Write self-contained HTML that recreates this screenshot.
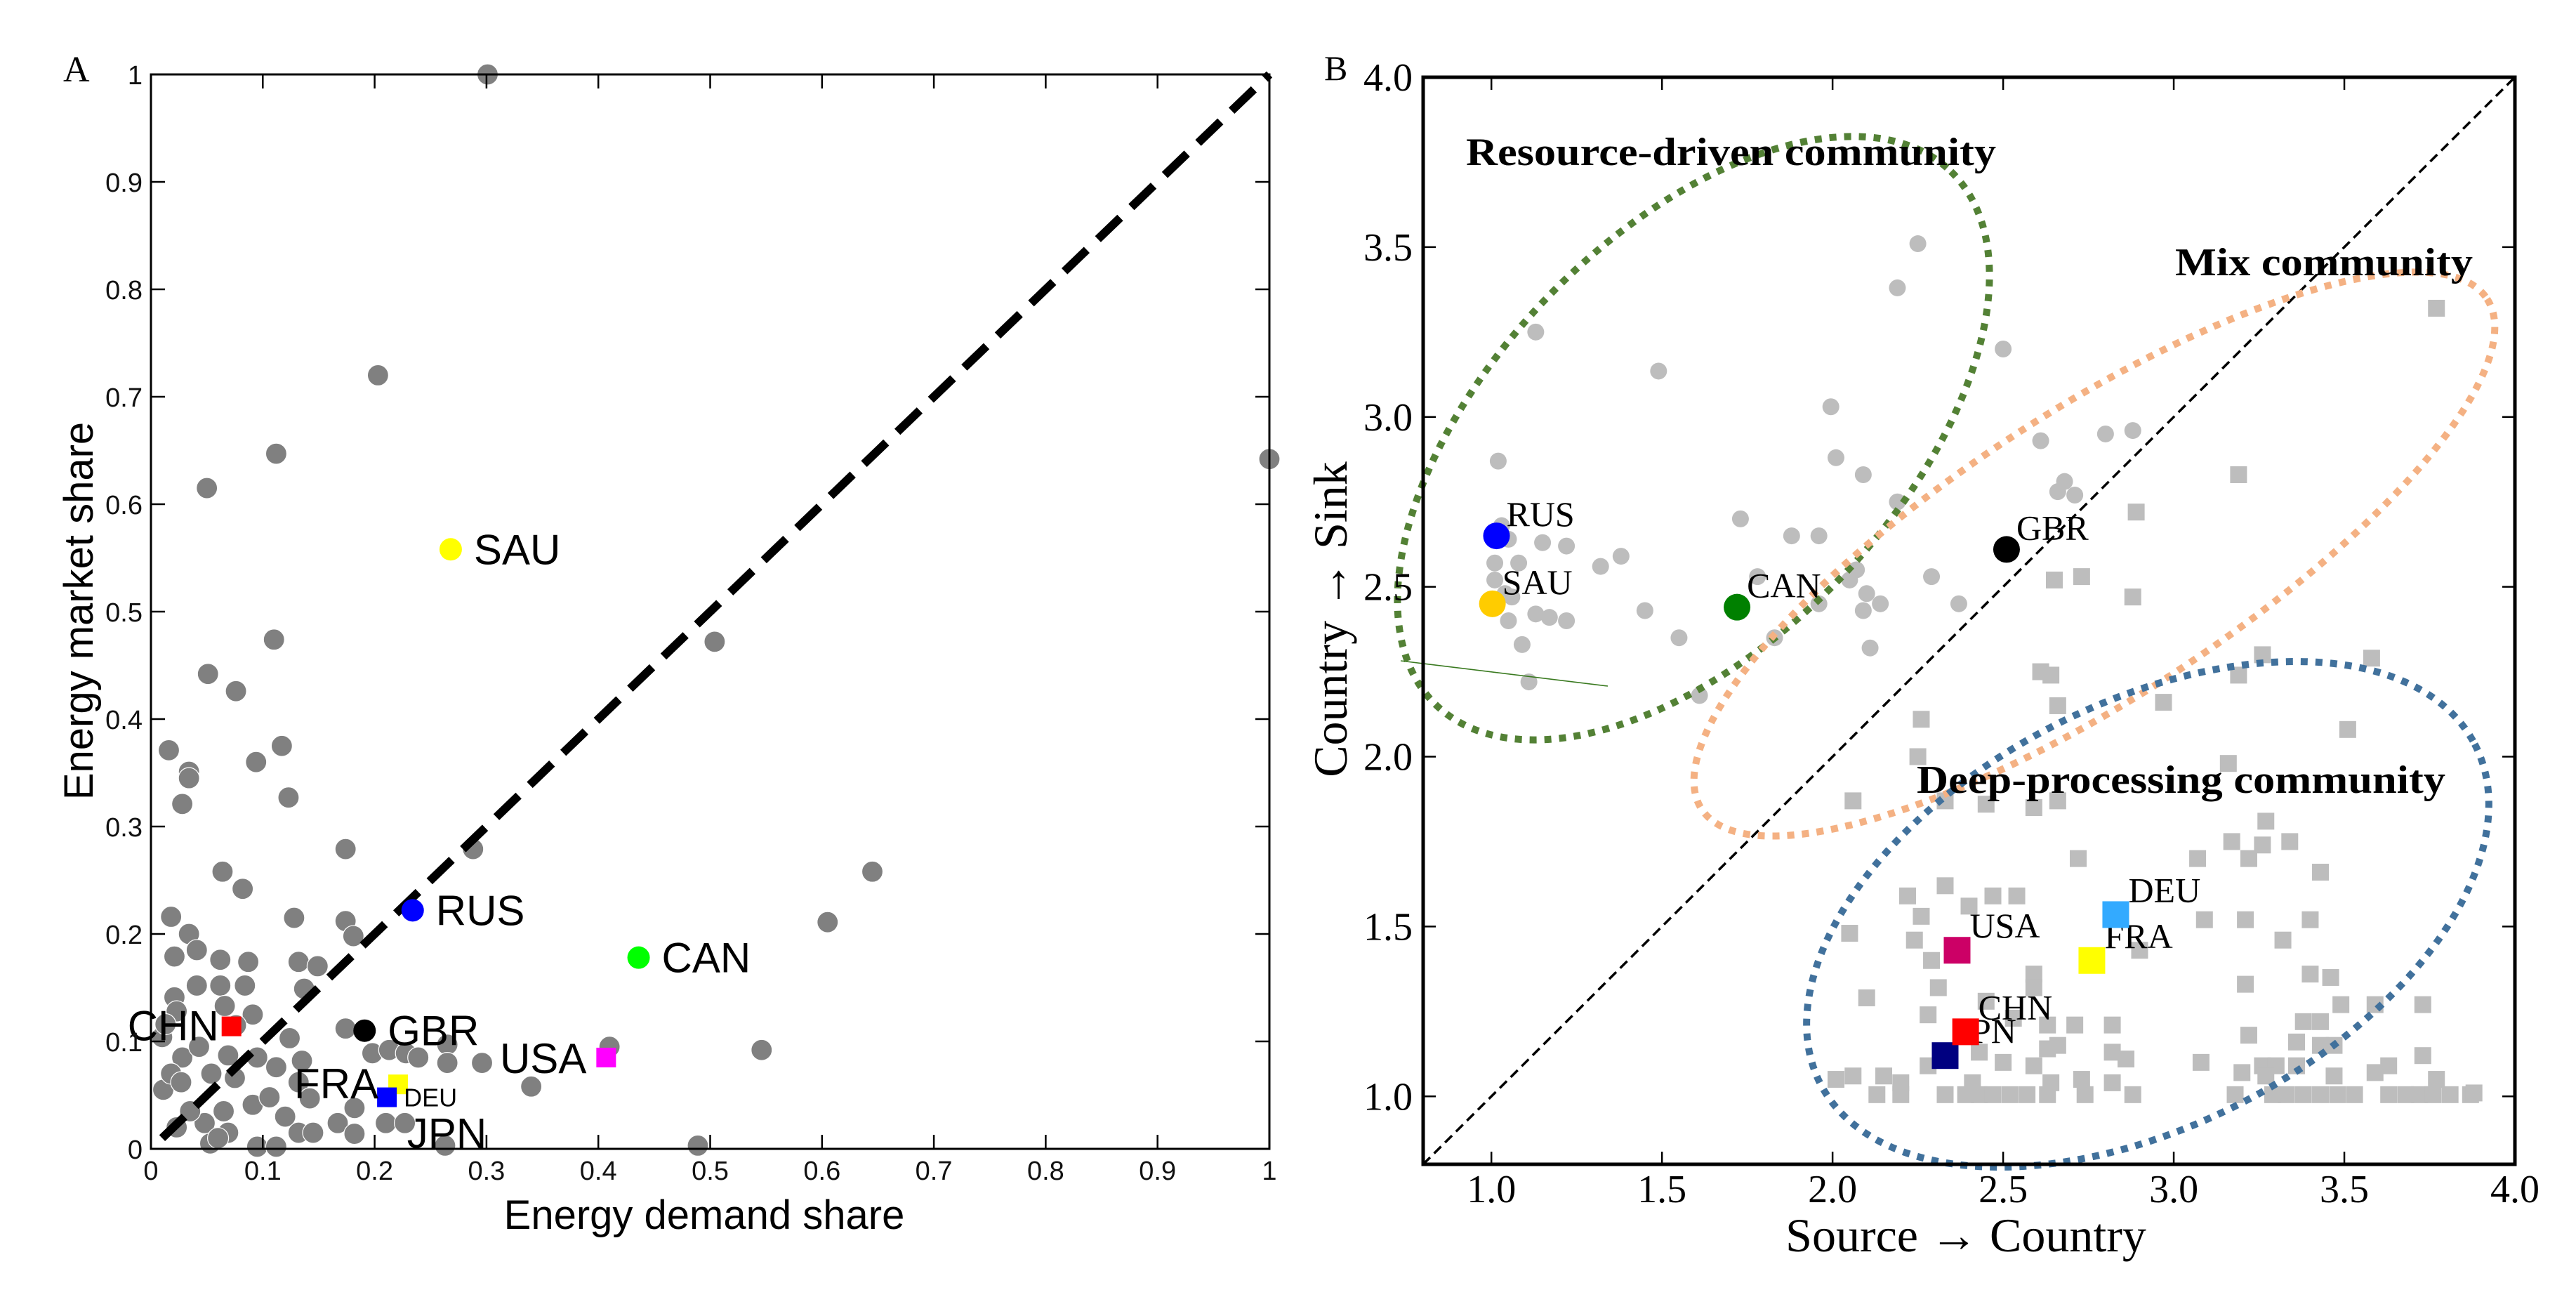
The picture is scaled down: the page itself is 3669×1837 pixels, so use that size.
<!DOCTYPE html>
<html><head><meta charset="utf-8"><title>Energy market vs demand share, and community map</title>
<style>
html,body{margin:0;padding:0;background:#fff;}
svg{display:block;}
.sans{font-family:"Liberation Sans",Arial,sans-serif;}
.serif{font-family:"Liberation Serif","Times New Roman",serif;}
</style></head>
<body>
<svg id="fig" width="3669" height="1837" viewBox="0 0 3669 1837" xmlns="http://www.w3.org/2000/svg">
<rect width="3669" height="1837" fill="#fff"/>
<g id="panelA"></g>
<g id="panelB"></g>
</svg>
<script>
// ---------- Panel A data ----------
const aTicks = [0,0.1,0.2,0.3,0.4,0.5,0.6,0.7,0.8,0.9,1];
const aTickLabels = ["0","0.1","0.2","0.3","0.4","0.5","0.6","0.7","0.8","0.9","1"];
const aX = [0.301,1.0,0.203,0.112,0.05,0.11,0.504,0.051,0.076,0.016,0.117,0.094,0.034,0.034,0.028,0.123,0.174,0.288,0.064,0.082,0.645,0.605,0.018,0.128,0.174,0.181,0.034,0.546,0.41,0.34,0.489,0.263,
0.174,0.124,0.198,0.213,0.228,0.239,0.265,0.265,0.296,0.095,0.069,0.112,0.135,0.028,0.010,0.011,0.043,0.054,0.075,0.132,0.142,0.091,0.065,0.106,0.182,0.167,0.182,0.132,0.21,0.227,0.023,0.048,0.069,0.095,0.112,0.053,0.035,0.018,0.027,
0.021,0.041,0.062,0.087,0.132,0.149,0.041,0.062,0.084,0.137,0.021,0.066,0.091,0.023,0.013,0.076,0.145,0.06,0.12];
const aY = [1.0,0.642,0.72,0.647,0.615,0.474,0.472,0.442,0.426,0.371,0.375,0.36,0.351,0.345,0.321,0.327,0.279,0.279,0.258,0.242,0.258,0.211,0.216,0.215,0.212,0.198,0.2,0.092,0.095,0.058,0.003,0.003,
0.112,0.103,0.089,0.092,0.089,0.085,0.097,0.08,0.08,0.085,0.087,0.076,0.082,0.085,0.104,0.055,0.095,0.07,0.066,0.062,0.047,0.041,0.035,0.048,0.038,0.024,0.014,0.015,0.024,0.024,0.02,0.024,0.015,0.002,0.002,0.005,0.035,0.07,0.062,
0.179,0.185,0.176,0.174,0.174,0.17,0.152,0.152,0.152,0.149,0.141,0.133,0.125,0.128,0.116,0.115,0.015,0.01,0.03];
const aHlNames = ["SAU","RUS","CAN","GBR"];
const aHlX = [0.268,0.234,0.436,0.191];
const aHlY = [0.558,0.222,0.178,0.110];
const aHlColors = ["#ffff00","#0000ff","#00ff00","#000000"];
const aSqNames = ["CHN","USA","FRA","DEU"];
const aSqX = [0.072,0.407,0.221,0.211];
const aSqY = [0.114,0.085,0.060,0.048];
const aSqColors = ["#ff0000","#ff00ff","#ffff00","#0000ff"];

// ---------- Panel B data ----------
const bTicks = [1.0,1.5,2.0,2.5,3.0,3.5,4.0];
const bTickLabels = ["1.0","1.5","2.0","2.5","3.0","3.5","4.0"];
const bcX = [1.13,1.49,1.02,2.25,2.19,2.50,1.995,2.01,2.09,2.19,1.88,1.96,1.73,1.15,1.22,1.05,1.01,1.08,1.32,1.38,1.01,1.06,1.05,1.13,1.17,1.22,1.09,1.11,1.45,1.55,1.83,1.61,1.96,2.07,2.05,2.10,2.09,2.14,2.11,2.29,2.37,1.78,2.61,2.80,2.88,2.66,2.68,2.71,1.03,1.04];
const bcY = [3.25,3.135,2.87,3.51,3.38,3.20,3.03,2.88,2.83,2.75,2.65,2.65,2.70,2.63,2.62,2.64,2.57,2.57,2.56,2.59,2.52,2.47,2.40,2.42,2.41,2.40,2.33,2.22,2.43,2.35,2.35,2.18,2.45,2.55,2.52,2.48,2.43,2.45,2.32,2.53,2.45,2.53,2.93,2.95,2.96,2.78,2.81,2.77,2.68,2.48];
const bsX = [3.77,3.19,2.89,2.88,2.65,2.73,2.61,2.64,2.66,2.26,2.25,2.97,3.26,3.19,3.58,3.51,3.16,2.06,2.33,2.45,2.59,2.66,2.72,3.07,3.17,3.27,3.26,3.22,3.34,3.43,
2.22,2.33,2.40,2.47,2.54,2.26,2.05,2.24,2.29,3.09,3.21,3.40,3.32,2.90,2.59,2.59,2.31,2.45,2.10,3.21,3.40,3.46,3.49,3.59,3.73,2.28,2.53,2.63,2.71,2.82,3.22,3.38,3.43,3.43,3.47,3.36,2.63,2.66,2.43,2.82,2.86,3.73,2.50,2.59,2.28,3.08,3.26,3.30,3.36,3.63,3.59,3.20,3.47,2.06,2.01,2.15,2.20,2.64,2.73,2.82,3.27,3.77,2.41,
2.13,2.20,2.33,2.39,2.43,2.47,2.52,2.57,2.63,2.74,2.88,3.18,3.29,3.33,3.38,3.43,3.48,3.53,3.63,3.68,3.72,3.76,3.81,3.87,3.88];
const bsY = [3.32,2.83,2.72,2.47,2.52,2.53,2.25,2.24,2.15,2.11,2.00,2.16,2.30,2.24,2.29,2.08,1.98,1.87,1.87,1.86,1.85,1.87,1.70,1.70,1.75,1.81,1.74,1.70,1.75,1.66,
1.59,1.62,1.56,1.59,1.59,1.53,1.48,1.46,1.40,1.52,1.52,1.52,1.46,1.43,1.36,1.32,1.32,1.28,1.29,1.33,1.36,1.35,1.27,1.27,1.27,1.24,1.23,1.21,1.21,1.21,1.18,1.22,1.22,1.15,1.15,1.16,1.14,1.15,1.13,1.13,1.11,1.12,1.10,1.09,1.09,1.10,1.09,1.09,1.09,1.09,1.07,1.07,1.06,1.06,1.05,1.06,1.04,1.04,1.05,1.04,1.06,1.05,1.04,
1.005,1.005,1.005,1.005,1.005,1.005,1.005,1.005,1.005,1.005,1.005,1.005,1.005,1.005,1.005,1.005,1.005,1.005,1.005,1.005,1.005,1.005,1.005,1.005,1.01];
const bHcNames = ["RUS","SAU","CAN","GBR"];
const bHcX = [1.015,1.003,1.72,2.51];
const bHcY = [2.65,2.45,2.44,2.61];
const bHcColors = ["#0000ff","#ffcc00","#008000","#000000"];
const bHsNames = ["USA","DEU","FRA","CHN","JPN"];
const bHsX = [2.365,2.83,2.76,2.39,2.33];
const bHsY = [1.43,1.535,1.40,1.19,1.12];
const bHsColors = ["#cc0066","#33aaff","#ffff00","#ff0000","#000080"];

const NS = "http://www.w3.org/2000/svg";
function mk(tag, attrs, parent){const e=document.createElementNS(NS,tag);for(const k in attrs)e.setAttribute(k,attrs[k]);parent.appendChild(e);return e;}

// ---------- Panel A ----------
(function(){
const g=document.getElementById('panelA');
const L=215,R=1808,T=106,B=1636;
const sx=v=>L+v*(R-L), sy=v=>B-v*(B-T);
let t=mk('text',{x:90,y:116,'font-size':52,class:'serif'},g);t.textContent='A';


for(let i=0;i<aX.length;i++){
  const c=mk('circle',{cx:sx(aX[i]),cy:sy(aY[i]),r:15,fill:'#808080',stroke:'#ffffff','stroke-width':1.2},g);
  
  
}
let d=mk('line',{x1:sx(0.01),y1:sy(0.01),x2:sx(1),y2:sy(1),stroke:'#000','stroke-width':12,'stroke-dasharray':'44 22'},g);


for(let i=0;i<aHlX.length;i++){
  const c=mk('circle',{cx:sx(aHlX[i]),cy:sy(aHlY[i]),r:16,fill:aHlColors[i]},g);
  
  
  const tx=mk('text',{x:sx(aHlX[i])+33,y:sy(aHlY[i])+21,'font-size':60,class:'sans'},g);tx.textContent=aHlNames[i];
  
  
}
for(let i=0;i<aSqX.length;i++){
  const s=mk('rect',{x:sx(aSqX[i])-14,y:sy(aSqY[i])-14,width:28,height:28,fill:aSqColors[i]},g);
  
  
}
const lab=[["CHN",sx(aSqX[0])-18,sy(aSqY[0])+20,'end',60],["USA",sx(aSqX[1])-28,sy(aSqY[1])+22,'end',60],["FRA",sx(aSqX[2])-28,sy(aSqY[2])+20,'end',60],["DEU",sx(aSqX[3])+24,sy(aSqY[3])+13,'start',36],["JPN",sx(0.229),sy(0.001),'start',60]];
lab.forEach(l=>{const tx=mk('text',{x:l[1],y:l[2],'text-anchor':l[3],'font-size':l[4],class:'sans'},g);tx.textContent=l[0];
  
  });
let f=mk('rect',{x:L,y:T,width:R-L,height:B-T,fill:'none',stroke:'#000','stroke-width':3},g);


for(let i=0;i<aTicks.length;i++){
  const x=sx(aTicks[i]),y=sy(aTicks[i]);
  mk('line',{x1:x,y1:B,x2:x,y2:B-20,stroke:'#000','stroke-width':2.5},g);
  mk('line',{x1:x,y1:T,x2:x,y2:T+20,stroke:'#000','stroke-width':2.5},g);
  mk('line',{x1:L,y1:y,x2:L+20,y2:y,stroke:'#000','stroke-width':2.5},g);
  mk('line',{x1:R,y1:y,x2:R-20,y2:y,stroke:'#000','stroke-width':2.5},g);
  const xt=mk('text',{x:x,y:1680,'text-anchor':'middle','font-size':38,class:'sans',fill:'#111'},g);xt.textContent=aTickLabels[i];
  
  
  const yt=mk('text',{x:203,y:y+14,'text-anchor':'end','font-size':38,class:'sans',fill:'#111'},g);yt.textContent=aTickLabels[i];
  
  
}
let xt=mk('text',{x:1003,y:1750,'text-anchor':'middle','font-size':58,class:'sans'},g);xt.textContent='Energy demand share';


let yt=mk('text',{x:0,y:0,'text-anchor':'middle','font-size':58,class:'sans',transform:'translate(132,870) rotate(-90)'},g);yt.textContent='Energy market share';


})();

// ---------- Panel B ----------
(function(){
const g=document.getElementById('panelB');
const L=2027,R=3582,T=110,B=1658,lo=0.8,hi=4.0;
const sx=v=>L+(v-lo)/(hi-lo)*(R-L), sy=v=>B-(v-lo)/(hi-lo)*(B-T);
let t=mk('text',{x:1886,y:114,'font-size':50,class:'serif'},g);t.textContent='B';


let d=mk('line',{x1:sx(0.8),y1:sy(0.8),x2:sx(4),y2:sy(4),stroke:'#000','stroke-width':3.5,'stroke-dasharray':'14 8'},g);


for(let i=0;i<bsX.length;i++){
  const s=mk('rect',{x:sx(bsX[i])-12,y:sy(bsY[i])-12,width:24,height:24,fill:'#bdbdbd'},g);
  
  
}
for(let i=0;i<bcX.length;i++){
  const c=mk('circle',{cx:sx(bcX[i]),cy:sy(bcY[i]),r:12,fill:'#bdbdbd'},g);
  
  
}
const ell=[['resource-driven-ellipse',2412,624,528,289,-46,'#538135'],['mix-ellipse',2983,789,667,204,-33,'#f4b183'],['deep-processing-ellipse',3059,1302,525,300,-27.5,'#41719c']];
ell.forEach(e=>{const el=mk('ellipse',{cx:e[1],cy:e[2],rx:e[3],ry:e[4],transform:`rotate(${e[5]} ${e[1]} ${e[2]})`,fill:'none',stroke:e[6],'stroke-width':10,'stroke-dasharray':'10 11'},g);
  
  });
let gl=mk('line',{x1:1995,y1:941,x2:2290,y2:977,stroke:'#3a7a20','stroke-width':1.6},g);


for(let i=0;i<bHcX.length;i++){
  const c=mk('circle',{cx:sx(bHcX[i]),cy:sy(bHcY[i]),r:19,fill:bHcColors[i]},g);
  
  
  const tx=mk('text',{x:sx(bHcX[i])+14,y:sy(bHcY[i])-14,'font-size':50,class:'serif'},g);tx.textContent=bHcNames[i];
  
  
}
for(let i=bHsX.length-1;i>=0;i--){
  const tx=mk('text',{x:sx(bHsX[i])+18,y:sy(bHsY[i])-18,'font-size':50,class:'serif'},g);tx.textContent=bHsNames[i];
  
  
}
for(let i=bHsX.length-1;i>=0;i--){
  const s=mk('rect',{x:sx(bHsX[i])-19,y:sy(bHsY[i])-19,width:38,height:38,fill:bHsColors[i]},g);
  
  
}
const titles=[['Resource-driven community',2088,235,755,'resource-title'],['Mix community',3098,392,424,'mix-title'],['Deep-processing community',2730,1129,753,'deep-processing-title']];
titles.forEach(tt=>{const tx=mk('text',{x:tt[1],y:tt[2],'font-size':56,'font-weight':'bold',class:'serif',textLength:tt[3],lengthAdjust:'spacingAndGlyphs'},g);tx.textContent=tt[0];
  
  });
let f=mk('rect',{x:L,y:T,width:R-L,height:B-T,fill:'none',stroke:'#000','stroke-width':5},g);


for(let i=0;i<bTicks.length;i++){
  const x=sx(bTicks[i]),y=sy(bTicks[i]);
  mk('line',{x1:x,y1:B,x2:x,y2:B-18,stroke:'#000','stroke-width':2.5},g);
  mk('line',{x1:x,y1:T,x2:x,y2:T+18,stroke:'#000','stroke-width':2.5},g);
  mk('line',{x1:L,y1:y,x2:L+18,y2:y,stroke:'#000','stroke-width':2.5},g);
  mk('line',{x1:R,y1:y,x2:R-18,y2:y,stroke:'#000','stroke-width':2.5},g);
  const xt=mk('text',{x:x,y:1712,'text-anchor':'middle','font-size':56,class:'serif'},g);xt.textContent=bTickLabels[i];
  
  
  const yt=mk('text',{x:2012,y:y+19,'text-anchor':'end','font-size':56,class:'serif'},g);yt.textContent=bTickLabels[i];
  
  
}
let xt=mk('text',{x:2800,y:1782,'text-anchor':'middle','font-size':68,class:'serif'},g);xt.textContent='Source \u2192 Country';


let yt=mk('text',{x:0,y:0,'text-anchor':'middle','font-size':68,class:'serif',transform:'translate(1918,882) rotate(-90)'},g);yt.textContent='Country \u2192 Sink';


})();
</script>
</body></html>
